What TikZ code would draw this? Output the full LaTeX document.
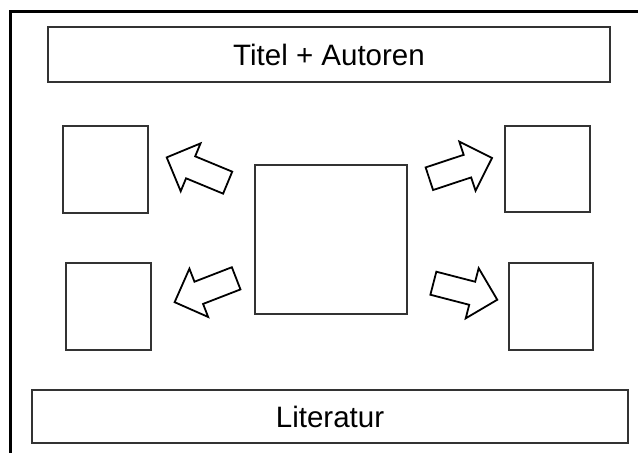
\documentclass[tikz,border=0pt]{standalone}
\usepackage{fontspec}
\setmainfont{Liberation Sans}
\usetikzlibrary{shapes.arrows}

\tikzset{
  panel/.style={draw=black!80, line width=1.2pt, fill=white, inner sep=0pt},
  bar/.style={panel, font=\fontsize{29.5}{34}\selectfont},
  flow/.style={single arrow, draw=black, line width=1.8pt, fill=white,
    inner xsep=0pt, inner ysep=11pt, minimum height=66pt,
    single arrow head extend=14pt, anchor=tail}
}

\begin{document}
\begin{tikzpicture}[x=1pt, y=1pt]
\useasboundingbox (0,0) rectangle (638,453);
% page frame, runs off to the right and the bottom
\draw[line width=2.4pt] (660,441.5) -- (10.5,441.5) -- (10.5,-20);

% header and footer
\node[bar, minimum width=562pt, minimum height=55pt] (titel) at (329,398.5) {Titel + Autoren};
\node[bar, minimum width=596pt, minimum height=53pt] (literatur) at (330,36.5) {Literatur};

% main figure and the four side figures
\node[panel, minimum width=152pt, minimum height=149pt] (mitte) at (331,213.5) {};
\node[panel, minimum width=85pt, minimum height=87pt] (obenlinks) at (105.5,283.5) {};
\node[panel, minimum width=85pt, minimum height=87pt] (untenlinks) at (108.5,146.5) {};
\node[panel, minimum width=85pt, minimum height=86pt] (obenrechts) at (547.5,284) {};
\node[panel, minimum width=84pt, minimum height=87pt] (untenrechts) at (551,146.5) {};

% block arrows from the middle outwards
\node[flow, rotate=157.5] (pfeilOL) at (228.5,270) {};
\node[flow, rotate=18.3] (pfeilOR) at (428.5,274) {};
\node[flow, rotate=201.2] (pfeilUL) at (237,175) {};
\node[flow, rotate=-14.5] (pfeilUR) at (432.5,170) {};
\end{tikzpicture}
\end{document}
